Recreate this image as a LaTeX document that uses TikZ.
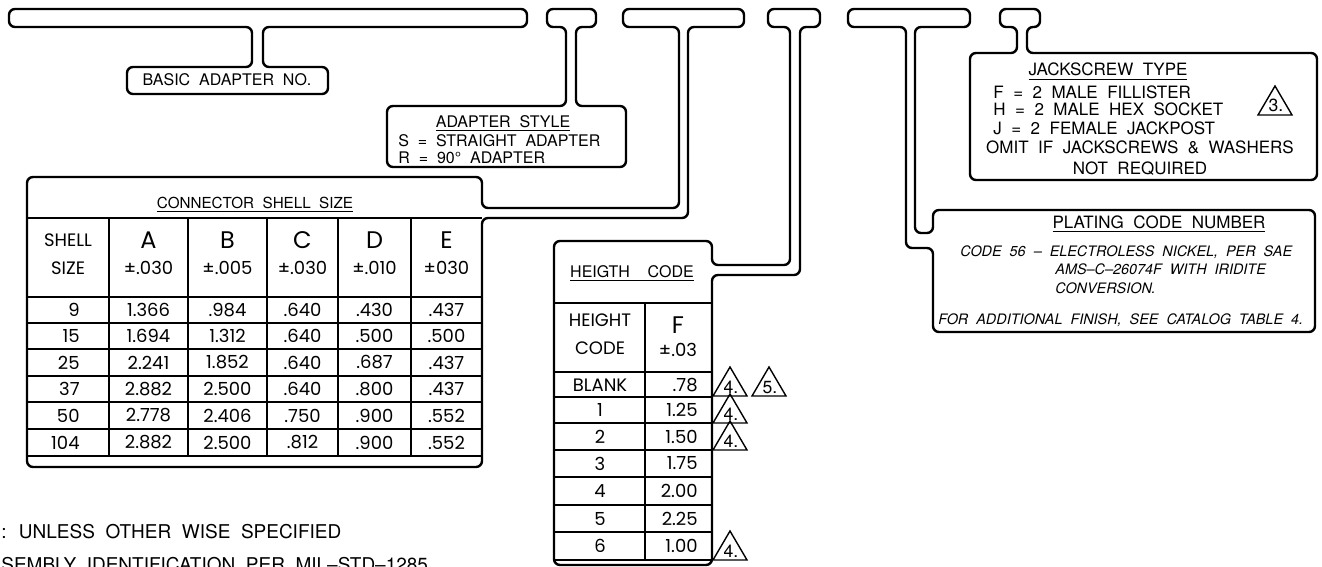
\documentclass[tikz,border=0pt]{standalone}
\usepackage{fontspec}
\setmainfont{TeX Gyre Heros}[WordSpace=2]
\newfontfamily\tabfont{Poppins}
\newcommand\cadsize{\fontsize{8}{9}\selectfont}

\begin{document}
\begin{tikzpicture}[
    x=0.5pt, y=-0.5pt,
    outline/.style={draw=black, line width=1.2pt, rounded corners=3pt},
    grid/.style={draw=black, line width=0.8pt},
    cad/.style={inner sep=0pt, font=\cadsize},
    cadjack/.style={inner sep=0pt, font=\fontsize{8.5}{9.8}\selectfont},
    cadplate/.style={inner sep=0pt, font=\fontsize{7.2}{9}\selectfont\itshape},
    cell/.style={inner sep=0pt, font=\tabfont\fontsize{9}{10}\selectfont},
    bigcell/.style={inner sep=0pt, font=\tabfont\fontsize{12}{13}\selectfont},
    notetri/.style={draw=black, line width=0.7pt}
  ]
  \useasboundingbox (0,0) rectangle (1322,567);
  \fill[white] (0,0) rectangle (1322,567);
  \clip (0,0) rectangle (1322,567);

  % brackets with their callout boxes
  \draw[outline] (100,9) -- (527,9) -- (527,27) -- (263,27) -- (263,67) -- (328,67) -- (328,94)
    -- (127,94) -- (127,67) -- (252,67) -- (252,27) -- (9,27) -- (9,9) -- cycle;
  \draw[outline] (560,9) -- (596,9) -- (596,27) -- (576,27) -- (576,106) -- (626,106) -- (626,167)
    -- (387,167) -- (387,106) -- (566,106) -- (566,27) -- (547,27) -- (547,9) -- cycle;
  \draw[outline] (650,9) -- (744,9) -- (744,27) -- (688,27) -- (688,218) -- (482,218) -- (482,467)
    -- (27,467) -- (27,177) -- (482,177) -- (482,208) -- (679,208) -- (679,27) -- (623,27) -- (623,9) -- cycle;
  \draw[outline] (780,9) -- (820,9) -- (820,27) -- (800,27) -- (800,275) -- (712,275) -- (712,565)
    -- (554,565) -- (554,241) -- (712,241) -- (712,265) -- (790,265) -- (790,27) -- (768,27) -- (768,9) -- cycle;
  \draw[outline] (880,9) -- (970,9) -- (970,27) -- (915,27) -- (915,233) -- (933,233) -- (933,210)
    -- (1315,210) -- (1315,332) -- (933,332) -- (933,248) -- (906,248) -- (906,27) -- (848,27) -- (848,9) -- cycle;
  \draw[outline] (1010,9) -- (1040,9) -- (1040,27) -- (1027,27) -- (1027,53) -- (1317,53) -- (1317,180)
    -- (970,180) -- (970,53) -- (1017,53) -- (1017,27) -- (1000,27) -- (1000,9) -- cycle;

  % basic adapter / adapter style
  \node[cad, anchor=base] (basic) at (227,86) {BASIC ADAPTER NO.};
  \node[cad, anchor=base] (styleTitle) at (503,127) {\underline{ADAPTER STYLE}};
  \node[cad, anchor=base west] (styleS) at (398,147) {S = STRAIGHT ADAPTER};
  \node[cad, anchor=base west] (styleR) at (398,163) {R = 90° ADAPTER};

  % connector shell size table
  \node[cad, anchor=base, font=\fontsize{7.6}{9}\selectfont] (shellTitle) at (255,208) {\underline{CONNECTOR SHELL SIZE}};
  \draw[grid] (27,218) -- (482,218);
  \foreach \y in {297,323,349,376,402,429,456}
    \draw[grid] (27,\y) -- (482,\y);
  \foreach \x in {109,188,267,338,411}
    \draw[grid] (\x,218) -- (\x,456);
  \node[cell] (shellHead) at (68,240) {SHELL};
  \node[cell] (sizeHead) at (68,268) {SIZE};
  \foreach \x/\l/\t in {148.5/A/{±.030},227.5/B/{±.005},302.5/C/{±.030},374.5/D/{±.010},446.5/E/{±030}} {
    \node[bigcell] (head\l) at (\x,240) {\l};
    \node[cell] (tol\l) at (\x,268) {\t};
  }
  \foreach \y/\s/\a/\b/\c/\d/\e in {310/9/1.366/.984/.640/.430/.437,
      336/15/1.694/1.312/.640/.500/.500, 362.5/25/2.241/1.852/.640/.687/.437,
      389/37/2.882/2.500/.640/.800/.437, 415.5/50/2.778/2.406/.750/.900/.552,
      442.5/104/2.882/2.500/.812/.900/.552} {
    \node[cell, anchor=east] (size\s) at (80,\y) {\s};
    \node[cell] at (148.5,\y) {\a};
    \node[cell] at (227.5,\y) {\b};
    \node[cell] at (302.5,\y) {\c};
    \node[cell] at (374.5,\y) {\d};
    \node[cell] at (446.5,\y) {\e};
  }

  % height code table
  \node[cad, anchor=base] (heightTitle) at (632,277) {\underline{HEIGTH\ \ CODE}};
  \draw[grid] (554,303) -- (712,303);
  \foreach \y in {372,397,423,450,477,505,532,560}
    \draw[grid] (554,\y) -- (712,\y);
  \draw[grid] (645,303) -- (645,560);
  \node[cell] (heightHead) at (600,320) {HEIGHT};
  \node[cell] (codeHead) at (600,348) {CODE};
  \node[bigcell] (headF) at (678,325) {F};
  \node[cell] (tolF) at (678,350) {±.03};
  \foreach \y/\h/\f in {385/BLANK/.78, 410/1/1.25, 436.5/2/1.50, 463.5/3/1.75,
      491/4/2.00, 518.5/5/2.25, 546/6/1.00} {
    \node[cell] (code\h) at (600,\y) {\h};
    \node[cell, anchor=east] at (698,\y) {\f};
  }

  % note triangles
  \foreach \x/\b/\t [count=\i] in {730/396/4., 769/396/5., 730/423/4., 730/450/4., 730/560/4., 1275/115/3.} {
    \draw[notetri] (\x-17,\b) -- (\x,\b-29) -- (\x+17,\b) -- cycle;
    \node[cad, anchor=base, font=\fontsize{8.8}{9}\selectfont] (tri\i) at (\x+1,\b-3) {\t};
  }

  % jackscrew type
  \node[cadjack, anchor=base] (jackTitle) at (1108,76) {\underline{JACKSCREW TYPE}};
  \node[cadjack, anchor=base west] (jackF) at (993,98) {F = 2 MALE FILLISTER};
  \node[cadjack, anchor=base west] (jackH) at (993,116) {H = 2 MALE HEX SOCKET};
  \node[cadjack, anchor=base west] (jackJ) at (993,134) {J = 2 FEMALE JACKPOST};
  \node[cadjack, anchor=base] (jackOmit) at (1140,154) {OMIT IF JACKSCREWS \& WASHERS};
  \node[cadjack, anchor=base] (jackNot) at (1140,174) {NOT REQUIRED};

  % plating code number
  \node[cadjack, anchor=base] (plateTitle) at (1159,228) {\underline{PLATING CODE NUMBER}};
  \node[cadplate, anchor=base west] (plate56) at (960,256) {CODE 56 – ELECTROLESS NICKEL, PER SAE};
  \node[cadplate, anchor=base west] (plateAms) at (1055,274) {AMS–C–26074F WITH IRIDITE};
  \node[cadplate, anchor=base west] (plateConv) at (1055,293) {CONVERSION.};
  \node[cadplate, anchor=base west] (plateMore) at (938,324) {FOR ADDITIONAL FINISH, SEE CATALOG TABLE 4.};

  % notes at the foot
  \node[cad, anchor=base west, font=\fontsize{9.5}{11}\selectfont] (noteA) at (1,538) {: UNLESS OTHER WISE SPECIFIED};
  \node[cad, anchor=base west, font=\fontsize{9.5}{11}\selectfont] (noteB) at (1,571) {SEMBLY IDENTIFICATION PER MIL–STD–1285};
\end{tikzpicture}
\end{document}
